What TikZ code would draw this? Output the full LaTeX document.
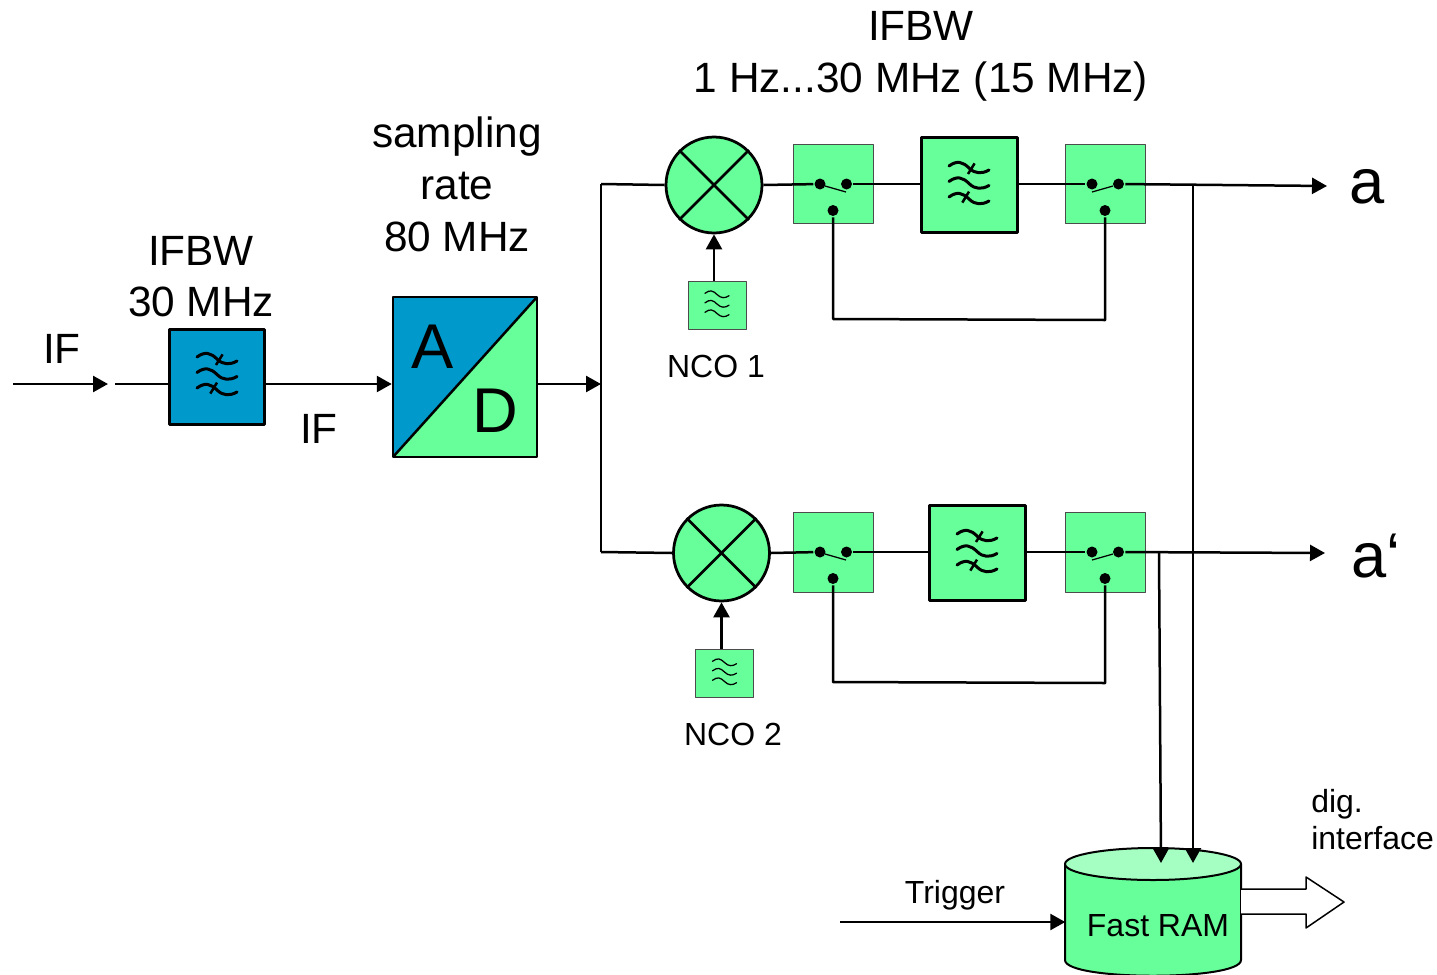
\documentclass[tikz,border=0pt]{standalone}
\usepackage{fontspec}
\setmainfont{Liberation Sans}
\usetikzlibrary{arrows.meta}
\definecolor{gblock}{HTML}{66FF99}
\definecolor{gtop}{HTML}{A6FFC2}
\definecolor{bblock}{HTML}{0099CC}
\tikzset{
  flbox/.style={draw=black,line width=.06cm,fill=#1,minimum width=1.92cm,minimum height=1.92cm,inner sep=0pt},
  swbox/.style={draw=black!70,line width=.02cm,fill=gblock,minimum width=1.6cm,minimum height=1.6cm,inner sep=0pt},
  ncobox/.style={draw=black!70,line width=.02cm,fill=gblock,minimum width=1.16cm,minimum height=.96cm,inner sep=0pt},
  mixer/.style={circle,draw=black,line width=.055cm,fill=gblock,minimum size=1.92cm,inner sep=0pt},
  swdot/.style={circle,fill=black,minimum size=.22cm,inner sep=0pt},
  big/.style={font=\fontsize{24.1}{29.4}\selectfont,align=center,inner sep=0pt},
  small/.style={font=\fontsize{18.2}{21}\selectfont,align=left,inner sep=0pt},
  huge/.style={font=\fontsize{36}{40}\selectfont,inner sep=0pt},
  pics/lpfsym/.style={code={
    \foreach \d in {-17,-1.5,14}
      \draw[line width=.06cm,line cap=round] (-20,\d-2) .. controls (-12,\d-8) and (-6,\d-6) .. (0,\d) .. controls (6,\d+6) and (13,\d+6) .. (20,\d+2);
    \draw[line width=.05cm] (5.6,-21.6) -- (-1,-11);
    \draw[line width=.05cm] (0,6.6) -- (-6.7,17.6);
  }},
  pics/ncosym/.style={code={
    \foreach \d in {-9.5,0,9.5}
      \draw[line width=.025cm,line cap=round] (-12,\d-1.2) .. controls (-7,\d-5) and (-4,\d-4) .. (0,\d) .. controls (4,\d+4) and (8,\d+4) .. (12,\d+1.2);
  }}
}
% switch box with its three contacts, #4 = lever
\newcommand{\swblock}[4]{
  \node[swbox] (#1) at (#2,#3) {};
  \node[swdot] (#1l) at (#2-13,#3) {};
  \node[swdot] (#1r) at (#2+13.5,#3) {};
  \node[swdot] (#1b) at (#2,#3+26.5) {};
  \draw[line width=.025cm] #4;
}
\begin{document}
\begin{tikzpicture}[x=.02cm,y=-.02cm,>={Triangle[length=.3cm,width=.32cm]},line join=round,line width=.05cm]
    \useasboundingbox (0,0) rectangle (1437,974);
    % input side
    \coordinate (ifin) at (13,384);
    \coordinate (ifend) at (108,384);
    \coordinate (lpin) at (115,384);
    \node[flbox=bblock] (lpa) at (217,377) {};
    \pic at (217,376) {lpfsym};
    \node[draw=black,line width=.05cm,minimum width=2.88cm,minimum height=3.2cm,inner sep=0pt,
      fill=gblock,path picture={
        \fill[bblock] (path picture bounding box.south west) -- (path picture bounding box.north west)
          -- (path picture bounding box.north east) -- cycle;
        \draw (path picture bounding box.south west) -- (path picture bounding box.north east);
      }] (adc) at (465,377) {};
    \node[huge] (adca) at (433,347) {A};
    \node[huge] (adcd) at (495,411) {D};
    \coordinate (split) at (601,384);
    \coordinate (splittop) at (601,184);
    \coordinate (splitbot) at (601,552);
    \draw[->] (ifin) -- (ifend);
    \draw (lpin) -- (lpa.west |- lpin);
    \draw[->] (lpa.east |- lpin) -- (adc.west |- lpin);
    \draw[->] (adc.east |- split) -- (split);

    % upper path
    \node[mixer] (mixa) at (714,185) {};
    \draw (mixa.north west) -- (mixa.south east) (mixa.north east) -- (mixa.south west);
    \node[ncobox] (ncoa) at (717,305) {};
    \pic at (717,304) {ncosym};
    \swblock{swaa}{833}{184}{(825,186) -- (846,192)}
    \node[flbox=gblock] (lpb) at (969,185) {};
    \pic at (969,185) {lpfsym};
    \swblock{swab}{1105}{184}{(1092,192) -- (1113,186)}
    \coordinate (outa) at (1327,186);
    \coordinate (tapa) at (1193,186);

    % lower path
    \node[mixer] (mixb) at (721.5,553) {};
    \draw (mixb.north west) -- (mixb.south east) (mixb.north east) -- (mixb.south west);
    \node[ncobox] (ncob) at (724.5,673) {};
    \pic at (724.5,672) {ncosym};
    \swblock{swba}{833}{552}{(825,554) -- (846,560)}
    \node[flbox=gblock] (lpc) at (977,553) {};
    \pic at (977,553) {lpfsym};
    \swblock{swbb}{1105}{552}{(1092,560) -- (1113,554)}
    \coordinate (outb) at (1325,553);
    \coordinate (tapb) at (1159,553);

    \draw (splittop) -- (splitbot);
    \draw (splittop) -- (mixa.west);
    \draw (splitbot) -- (mixb.west);
    \draw[->] (ncoa.north -| mixa.south) -- (mixa.south);
    \draw[->] (ncob.north -| mixb.south) -- (mixb.south);
    \draw (mixa.east) -- (swaal);
    \draw (swaar) -- (lpb.west |- swaar);
    \draw (lpb.east |- swabl) -- (swabl);
    \draw[->] (swabr) -- (outa);
    \draw (mixb.east) -- (swbal);
    \draw (swbar) -- (lpc.west |- swbar);
    \draw (lpc.east |- swbbl) -- (swbbl);
    \draw[->] (swbbr) -- (outb);
    \draw (swaab) -- (833,319) -- (1105,320) -- (swabb);
    \draw (swbab) -- (833,682) -- (1105,683) -- (swbbb);

    % memory
    \draw[fill=gblock,line width=.04cm] (1065,864) -- (1065,960) .. controls (1065,981) and (1241,981) .. (1241,960) -- (1241,864) -- cycle;
    \draw[fill=gtop,line width=.04cm] (1153,864) ellipse [x radius=88,y radius=16];
    \node[minimum width=3.52cm,minimum height=2.52cm,inner sep=0pt] (ram) at (1153,911) {};
    \coordinate (rama) at (1193,863);
    \coordinate (ramb) at (1161,863);
    \coordinate (trigin) at (840,922);
    \draw[->] (tapa) -- (rama);
    \draw[->] (tapb) -- (ramb);
    \draw[->] (trigin) -- ([xshift=.03cm]ram.west |- trigin);
    \draw[fill=white,line width=.03cm] (1241,889) -- (1306,889) -- (1306,877) -- (1344,902) -- (1306,928) -- (1306,914) -- (1241,914);

    % labels
    \node[big] (bwtop) at (921,56.5) {IFBW\\1 Hz...30 MHz (15 MHz)};
    \node[big] (rate) at (457,184.5) {sampling\\rate\\80 MHz};
    \node[big] (bwin) at (201,276.5) {IFBW\\30 MHz};
    \node[big] (ifa) at (62,349) {IF};
    \node[big] (ifb) at (319,429) {IF};
    \node[small] (ncoalab) at (716,366) {NCO 1};
    \node[small] (ncoblab) at (733,734) {NCO 2};
    \node[small] (triglab) at (955,895) {Trigger};
    \node[small] (ramlab) at (1158,926) {Fast RAM};
    \node[small,anchor=west] (diglab) at (1310,820) {dig.\\interface};
    \node[huge,anchor=base] (outalab) at (1367,203) {a};
    \begin{scope}
      \clip (1340,520) rectangle (1396,600);
      \node[huge,anchor=base west] (outblab) at (1350.5,577) {a‘};
    \end{scope}
\end{tikzpicture}
\end{document}
